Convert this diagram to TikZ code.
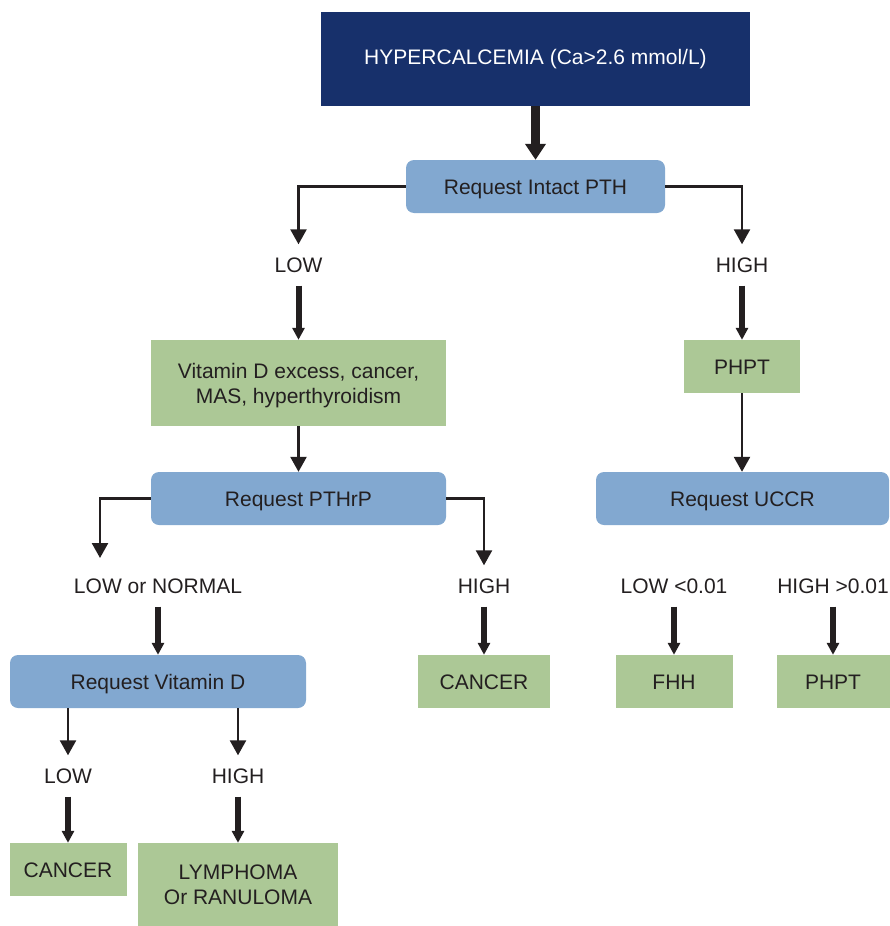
\documentclass[tikz,border=0pt]{standalone}
\usepackage{fontspec}
\setmainfont{Liberation Sans}
\usetikzlibrary{arrows.meta,positioning}
\definecolor{Navy}{HTML}{17306B}
\definecolor{Query}{HTML}{82A8D0}
\definecolor{Finding}{HTML}{ACC896}
\definecolor{Ink}{HTML}{231F20}

\begin{document}
\begin{tikzpicture}[x=1pt,y=-1pt,every node/.style={font=\fontsize{21}{25}\selectfont,text=Ink},head/.style={fill=Navy,text=white,minimum width=429pt,minimum height=94pt,inner sep=0pt},ask/.style={fill=Query,rounded corners=8pt,minimum height=53pt,inner sep=0pt,text height=15pt,text depth=0pt},result/.style={fill=Finding,minimum height=53pt,inner sep=0pt,text height=15pt,text depth=0pt},twoline/.style={align=center,text height=40pt,text depth=0pt},level/.style={inner xsep=0pt,inner ysep=13pt,text height=15pt,text depth=0pt},fat/.style={-{Triangle[length=12pt,width=12pt]},line width=6pt,draw=Ink},elbow/.style={-{Triangle[length=15pt,width=16pt]},line width=2.5pt,draw=Ink}]
\useasboundingbox (0,0) rectangle (889,926);
\node[head] (hyper) at (535.5,59) {HYPERCALCEMIA (Ca>2.6 mmol/L)};
\node[ask,minimum width=259pt] (pth) at (535.5,186.5) {Request Intact PTH};
\draw[-{Triangle[length=16pt,width=20pt]},line width=9pt,draw=Ink] (hyper.south) -- (pth.north);
% first split on PTH
\node[level] (lowA) at (298.5,265) {LOW};
\node[level] (highA) at (742,265) {HIGH};
\draw[elbow] (pth.west) -| (lowA.north); \draw[elbow] (pth.east) -| (highA.north);
\node[result,minimum width=295pt,minimum height=86pt,twoline] (vdx) at (298.5,383) {Vitamin D excess, cancer,\\MAS, hyperthyroidism};
\node[result,minimum width=116pt] (phptA) at (742,366.5) {PHPT};
\draw[fat] (lowA.south) -- (vdx.north); \draw[fat] (highA.south) -- (phptA.north);
\node[ask,minimum width=295pt] (pthrp) at (298.5,498.5) {Request PTHrP};
\node[ask,minimum width=293pt] (uccr) at (742.5,498.5) {Request UCCR};
\draw[elbow] (vdx.south) -- (pthrp.north); \draw[elbow] (phptA.south) -- (phptA.south |- uccr.north);
% PTHrP branch
\coordinate (lnTip) at (100,558);
\node[level] (lowB) at (158,586) {LOW or NORMAL};
\node[level] (highB) at (484,586) {HIGH};
\draw[elbow] (pthrp.west) -| (lnTip); \draw[elbow] (pthrp.east) -| (highB.north);
\node[ask,minimum width=296pt] (vitd) at (158,681.5) {Request Vitamin D};
\node[result,minimum width=132pt] (cancerA) at (484,681.5) {CANCER};
\draw[fat] (lowB.south) -- (vitd.north); \draw[fat] (highB.south) -- (cancerA.north);
% UCCR branch
\node[level] (lowD) at (674,586) {LOW <0.01};
\node[level] (highD) at (833,586) {HIGH >0.01};
\node[result,minimum width=117pt] (fhh) at (674,681.5) {FHH};
\node[result,minimum width=113pt] (phptB) at (833,681.5) {PHPT};
\draw[fat] (lowD.south) -- (fhh.north); \draw[fat] (highD.south) -- (phptB.north);
% vitamin D branch
\node[level] (lowC) at (68,776) {LOW};
\node[level] (highC) at (238,776) {HIGH};
\draw[elbow] (vitd.south -| lowC.north) -- (lowC.north); \draw[elbow] (vitd.south -| highC.north) -- (highC.north);
\node[result,minimum width=117pt] (cancerB) at (68,869.5) {CANCER};
\node[result,minimum width=200pt,minimum height=83pt,twoline] (lymph) at (238,884.5) {LYMPHOMA\\Or RANULOMA};
\draw[fat] (lowC.south) -- (cancerB.north); \draw[fat] (highC.south) -- (lymph.north);
\end{tikzpicture}
\end{document}
